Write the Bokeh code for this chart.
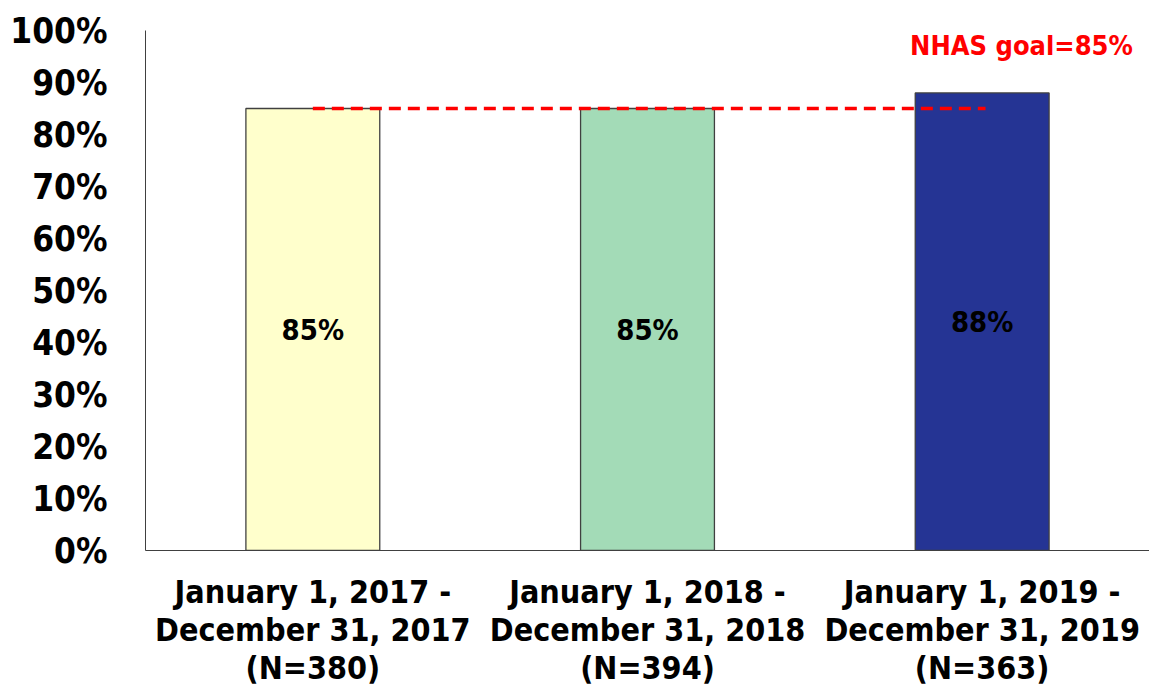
from bokeh.plotting import figure
from bokeh.models import Range1d, FixedTicker, Label, ColumnDataSource
from bokeh.embed import file_html
from bokeh.resources import INLINE

categories = ["January 1, 2017 -\nDecember 31, 2017\n(N=380)",
              "January 1, 2018 -\nDecember 31, 2018\n(N=394)",
              "January 1, 2019 -\nDecember 31, 2019\n(N=363)"]
values = [0.85, 0.85, 0.88]
bar_labels = ["85%", "85%", "88%"]
colors = ["#FFFFCC", "#A3DBB7", "#253494"]
goal = 0.85
goal_label = "NHAS goal=85%"
y_ticks = [0.0, 0.1, 0.2, 0.3, 0.4, 0.5, 0.6, 0.7, 0.8, 0.9, 1.0]

FONT = "DejaVu Sans Condensed"

xs = [i + 0.5 for i in range(len(categories))]

p = figure(frame_width=1004, frame_height=520, output_backend="svg", toolbar_location=None,
           x_range=Range1d(0, len(categories)), y_range=Range1d(0, 1.0),
           min_border_left=145, min_border_right=0, min_border_top=30, min_border_bottom=2)
p.outline_line_color = None
p.xgrid.grid_line_color = None
p.ygrid.grid_line_color = None

src = ColumnDataSource(dict(x=xs, top=values, color=colors, lab=bar_labels,
                            mid=[v / 2 for v in values]))
p.vbar(x="x", top="top", width=0.4, bottom=0, fill_color="color",
       line_color="#404040", line_width=1.3, source=src)
p.text(x="x", y="mid", text="lab", source=src, text_align="center", text_baseline="middle",
       text_font_size="29px", text_font_style="bold", text_color="black",
       text_font={"value": FONT})

p.line(x=[xs[0], xs[-1] + 0.01], y=[goal, goal], line_color="#FF0000", line_width=3.5,
       line_dash="12 7")
p.add_layout(Label(x=2.95, y=0.971, text=goal_label, text_align="right", text_baseline="middle",
                   text_color="#FF0000", text_font_size="27px", text_font_style="bold",
                   text_font=FONT))

p.yaxis.ticker = FixedTicker(ticks=y_ticks)
p.yaxis.major_label_overrides = {t: f"{int(round(t * 100))}%" for t in y_ticks}
p.yaxis.major_label_text_font = FONT
p.yaxis.major_label_text_font_size = "35px"
p.yaxis.major_label_text_font_style = "bold"
p.yaxis.major_label_text_color = "black"
p.yaxis.major_label_standoff = 32
p.yaxis.major_tick_line_color = None
p.yaxis.minor_tick_line_color = None
p.yaxis.axis_line_color = "#404040"

p.xaxis.ticker = FixedTicker(ticks=xs)
p.xaxis.major_label_overrides = {x: c for x, c in zip(xs, categories)}
p.xaxis.major_label_text_font = FONT
p.xaxis.major_label_text_font_size = "32px"
p.xaxis.major_label_text_font_style = "bold"
p.xaxis.major_label_text_color = "black"
p.xaxis.major_label_text_line_height = 1.0
p.xaxis.major_label_standoff = 16
p.xaxis.major_tick_line_color = None
p.xaxis.minor_tick_line_color = None
p.xaxis.axis_line_color = "#404040"

open("out.html", "w").write(file_html(p, INLINE))
